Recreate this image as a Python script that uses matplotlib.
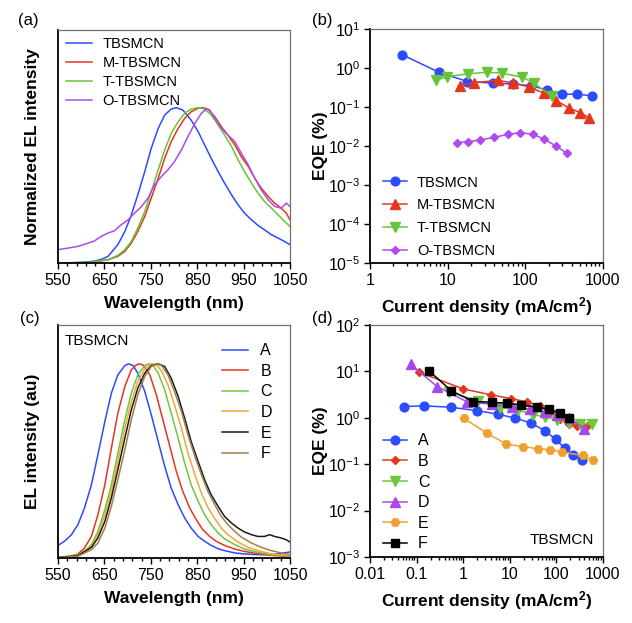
import matplotlib
matplotlib.use("Agg")
import matplotlib.pyplot as plt
from matplotlib.ticker import FixedLocator, LogLocator, NullFormatter, FuncFormatter, NullLocator, LogFormatterSciNotation

plt.rcParams['font.family'] = ['Liberation Sans', 'DejaVu Sans']
plt.rcParams['mathtext.fontset'] = 'custom'
plt.rcParams['mathtext.rm'] = 'Liberation Sans'
plt.rcParams['mathtext.bf'] = 'Liberation Sans:bold'
plt.rcParams['mathtext.it'] = 'Liberation Sans:italic'

# ---------------- (a) normalized EL spectra ----------------
a_labels = ["TBSMCN", "M-TBSMCN", "T-TBSMCN", "O-TBSMCN"]
a_colors = ["#2b4bff", "#e5361c", "#66c43a", "#b04af0"]

a_tb_wl = [550, 580, 610, 630, 645, 658, 679, 694, 707, 722, 737, 751, 766, 780, 794, 805, 819, 837, 852, 866, 880, 895, 909, 924, 938, 952, 967, 981, 995, 1010, 1024, 1038, 1050]
a_tb_I = [0.0, 0.002, 0.006, 0.013, 0.025, 0.043, 0.118, 0.203, 0.300, 0.439, 0.589, 0.739, 0.867, 0.953, 0.991, 1.0, 0.985, 0.92, 0.846, 0.76, 0.675, 0.589, 0.514, 0.439, 0.375, 0.321, 0.278, 0.242, 0.214, 0.182, 0.161, 0.139, 0.118]

a_m_wl = [550, 593, 622, 658, 679, 694, 708, 722, 737, 751, 766, 780, 794, 809, 823, 837, 852, 862, 873, 888, 902, 916, 931, 945, 960, 974, 988, 1003, 1017, 1031, 1042, 1050]
a_m_I = [0.0, 0.0, 0.004, 0.021, 0.043, 0.075, 0.128, 0.203, 0.300, 0.418, 0.546, 0.675, 0.782, 0.867, 0.931, 0.974, 0.996, 1.0, 0.991, 0.942, 0.878, 0.824, 0.760, 0.685, 0.621, 0.546, 0.482, 0.428, 0.385, 0.353, 0.321, 0.278]

a_t_wl = [550, 593, 622, 658, 679, 694, 708, 722, 737, 751, 766, 780, 794, 809, 823, 837, 852, 866, 880, 895, 909, 924, 938, 952, 967, 981, 995, 1010, 1024, 1038, 1050]
a_t_I = [0.0, 0.0, 0.006, 0.021, 0.049, 0.086, 0.139, 0.225, 0.332, 0.460, 0.600, 0.728, 0.835, 0.91, 0.964, 0.991, 1.0, 0.991, 0.953, 0.889, 0.824, 0.75, 0.664, 0.589, 0.514, 0.45, 0.396, 0.353, 0.311, 0.268, 0.236]

a_o_wl = [550, 572, 593, 615, 629, 643, 658, 672, 686, 701, 715, 730, 744, 758, 773, 787, 801, 816, 830, 845, 859, 870, 877, 888, 902, 916, 931, 945, 960, 974, 988, 1003, 1017, 1031, 1042, 1050]
a_o_I = [0.086, 0.096, 0.107, 0.128, 0.143, 0.171, 0.193, 0.208, 0.246, 0.278, 0.321, 0.364, 0.418, 0.503, 0.557, 0.600, 0.653, 0.728, 0.814, 0.899, 0.964, 0.991, 0.985, 0.932, 0.867, 0.824, 0.782, 0.707, 0.632, 0.546, 0.471, 0.407, 0.364, 0.353, 0.385, 0.364]

# ---------------- (b) EQE vs current density ----------------
b_tb_j = [2.6, 7.8, 18, 38, 70, 119, 189, 296, 462, 729]
b_tb_eqe = [2.19, 0.77, 0.45, 0.41, 0.39, 0.35, 0.275, 0.213, 0.213, 0.193]
b_m_j = [14.4, 22, 44, 70, 113, 175, 250, 368, 510, 667]
b_m_eqe = [0.355, 0.42, 0.48, 0.42, 0.32, 0.226, 0.146, 0.093, 0.072, 0.052]
b_t_j = [7.0, 9.9, 18.4, 31.8, 49.8, 91.8, 130, 220]
b_t_eqe = [0.48, 0.60, 0.71, 0.78, 0.74, 0.58, 0.41, 0.186]
b_o_j = [13.0, 18.1, 26.1, 39.6, 60.5, 85.8, 125, 175, 248, 344]
b_o_eqe = [0.0122, 0.0129, 0.0143, 0.0167, 0.020, 0.022, 0.020, 0.0149, 0.0100, 0.0065]

# ---------------- (c) EL spectra of TBSMCN devices ----------------
c_labels = ["A", "B", "C", "D", "E", "F"]
c_colors = ["#2b4bff", "#e5361c", "#6cc83c", "#f4a53a", "#1a1a1a", "#a0804c"]

c_A_wl = [550, 564, 579, 593, 607, 622, 636, 651, 665, 679, 694, 702, 712, 722, 737, 751, 766, 780, 794, 809, 823, 837, 852, 866, 880, 895, 909, 931, 952, 981, 1010, 1031, 1050]
c_A_I = [0.065, 0.086, 0.120, 0.172, 0.257, 0.377, 0.532, 0.703, 0.849, 0.943, 0.991, 1.0, 0.991, 0.952, 0.858, 0.738, 0.600, 0.472, 0.360, 0.274, 0.206, 0.154, 0.111, 0.086, 0.065, 0.048, 0.038, 0.026, 0.021, 0.017, 0.017, 0.024, 0.031]
c_B_wl = [550, 579, 593, 607, 622, 636, 651, 665, 679, 694, 708, 719, 726, 735, 748, 762, 776, 791, 805, 819, 834, 848, 862, 877, 891, 909, 931, 952, 981, 1010, 1050]
c_B_I = [0.003, 0.009, 0.021, 0.051, 0.111, 0.223, 0.377, 0.566, 0.746, 0.883, 0.969, 0.995, 1.0, 0.991, 0.943, 0.840, 0.712, 0.575, 0.446, 0.343, 0.257, 0.197, 0.146, 0.111, 0.086, 0.065, 0.046, 0.034, 0.022, 0.014, 0.007]
c_C_wl = [550, 593, 607, 622, 636, 651, 665, 679, 694, 708, 722, 737, 745, 755, 766, 780, 794, 809, 823, 837, 852, 866, 880, 895, 909, 931, 952, 981, 1010, 1050]
c_C_I = [0.003, 0.017, 0.034, 0.069, 0.137, 0.249, 0.377, 0.540, 0.712, 0.849, 0.943, 0.991, 1.0, 0.991, 0.952, 0.866, 0.746, 0.617, 0.489, 0.377, 0.292, 0.223, 0.172, 0.129, 0.099, 0.069, 0.046, 0.029, 0.017, 0.009]
c_D_wl = [550, 593, 622, 636, 651, 665, 679, 694, 708, 722, 737, 748, 753, 762, 773, 787, 801, 816, 830, 845, 859, 873, 888, 902, 916, 938, 960, 981, 1010, 1050]
c_D_I = [0.002, 0.014, 0.060, 0.120, 0.223, 0.343, 0.497, 0.669, 0.806, 0.909, 0.974, 0.997, 1.0, 0.995, 0.964, 0.892, 0.789, 0.669, 0.540, 0.429, 0.334, 0.261, 0.202, 0.154, 0.120, 0.082, 0.055, 0.038, 0.021, 0.012]
c_E_wl = [550, 593, 622, 636, 651, 665, 679, 694, 708, 722, 737, 751, 766, 780, 794, 809, 823, 837, 852, 866, 880, 895, 909, 924, 938, 952, 967, 981, 995, 1006, 1017, 1031, 1042, 1050]
c_E_I = [0.002, 0.012, 0.055, 0.103, 0.189, 0.309, 0.455, 0.617, 0.763, 0.875, 0.952, 0.991, 1.0, 0.986, 0.926, 0.832, 0.720, 0.600, 0.497, 0.403, 0.326, 0.266, 0.214, 0.180, 0.154, 0.134, 0.120, 0.111, 0.111, 0.120, 0.111, 0.103, 0.094, 0.082]
c_F_wl = [550, 593, 622, 636, 651, 665, 679, 694, 708, 722, 737, 751, 762, 773, 787, 801, 816, 830, 845, 859, 873, 888, 902, 916, 931, 945, 967, 988, 1010, 1031, 1050]
c_F_I = [0.002, 0.009, 0.043, 0.077, 0.154, 0.266, 0.403, 0.557, 0.712, 0.840, 0.935, 0.986, 1.0, 0.991, 0.943, 0.858, 0.755, 0.635, 0.523, 0.429, 0.343, 0.274, 0.214, 0.172, 0.137, 0.108, 0.077, 0.055, 0.038, 0.026, 0.017]

# ---------------- (d) EQE of TBSMCN devices ----------------
d_A_j = [0.054, 0.145, 0.545, 1.94, 5.5, 13.2, 28.7, 55.6, 95.8, 150, 226, 360]
d_A_eqe = [1.75, 1.81, 1.69, 1.43, 1.20, 0.98, 0.77, 0.53, 0.345, 0.222, 0.159, 0.124]
d_B_j = [0.113, 1.0, 3.95, 10.6, 23.1, 43.4, 76, 121, 182, 276, 453]
d_B_eqe = [9.58, 4.19, 3.12, 2.6, 2.2, 1.81, 1.32, 0.95, 0.74, 0.67, 0.67]
d_C_j = [0.5, 2.1, 6.2, 15.3, 31.2, 57.5, 102, 182, 314, 589]
d_C_eqe = [3.67, 2.31, 1.66, 1.48, 1.16, 1.06, 0.90, 0.79, 0.75, 0.73]
d_D_j = [0.074, 0.277, 1.18, 4.08, 11.0, 27.3, 57.4, 102, 182, 396]
d_D_eqe = [14.2, 4.7, 2.24, 1.96, 1.69, 1.53, 1.36, 1.16, 1.01, 0.58]
d_E_j = [1.02, 3.19, 8.45, 19.3, 39.9, 74.7, 133, 370, 607]
d_E_eqe = [0.98, 0.47, 0.27, 0.24, 0.215, 0.204, 0.182, 0.154, 0.124]
d_F_j = [0.186, 0.56, 1.65, 4.1, 8.6, 17.5, 38, 68, 117, 182]
d_F_eqe = [10.2, 3.8, 2.24, 2.17, 2.06, 1.9, 1.69, 1.53, 1.30, 1.01]

wl_major = [550, 650, 750, 850, 950, 1050]
wl_minor = list(range(550, 1051, 20))

W, H = 632, 623
fig = plt.figure(figsize=(W / 100, H / 100), dpi=100)


def box(l, t, r, b):
    return [l / W, 1 - b / H, (r - l) / W, (b - t) / H]


axa = fig.add_axes(box(58, 30, 290, 263))
axb = fig.add_axes(box(370, 29, 603, 263))
axc = fig.add_axes(box(58, 325, 290, 558))
axd = fig.add_axes(box(370, 325, 603, 557))

TICK_FS = 11.5
LAB_FS = 12.5
LEG_FS = 10.5


def style(ax):
    for s in ['bottom', 'left']:
        ax.spines[s].set_color('black')
        ax.spines[s].set_linewidth(1.3)
    for s in ['top', 'right']:
        ax.spines[s].set_color('#707070')
        ax.spines[s].set_linewidth(0.9)
    ax.tick_params(which='both', direction='out', top=False, right=False, labelsize=TICK_FS, width=1.0, pad=2.5)
    ax.tick_params(which='major', length=4.5)
    ax.tick_params(which='minor', length=2.5)


def wl_axis(ax, ytop):
    ax.set_xlim(550, 1050)
    ax.set_ylim(0, ytop)
    ax.xaxis.set_major_locator(FixedLocator(wl_major))
    ax.xaxis.set_minor_locator(FixedLocator(wl_minor))
    ax.yaxis.set_major_locator(NullLocator())
    style(ax)
    ax.set_xlabel("Wavelength (nm)", fontsize=LAB_FS, fontweight='bold', labelpad=6)


def log_axis(ax, xlim, ylim):
    ax.set_xscale('log')
    ax.set_yscale('log')
    ax.set_xlim(*xlim)
    ax.set_ylim(*ylim)
    ax.xaxis.set_major_locator(LogLocator(base=10, numticks=10))
    ax.xaxis.set_minor_locator(LogLocator(base=10, subs=range(2, 10), numticks=10))
    ax.xaxis.set_minor_formatter(NullFormatter())
    ax.xaxis.set_major_formatter(FuncFormatter(lambda v, p: "%g" % v))
    ax.yaxis.set_major_locator(LogLocator(base=10, numticks=10))
    ax.yaxis.set_minor_locator(NullLocator())
    ax.yaxis.set_major_formatter(LogFormatterSciNotation())
    style(ax)
    ax.set_xlabel(r"Current density (mA/cm$^\mathbf{2}$)", fontsize=LAB_FS, fontweight='bold', labelpad=5)
    ax.set_ylabel("EQE (%)", fontsize=LAB_FS, fontweight='bold', labelpad=0)


# (a)
for wl, I, lab, col in zip([a_tb_wl, a_m_wl, a_t_wl, a_o_wl], [a_tb_I, a_m_I, a_t_I, a_o_I], a_labels, a_colors):
    axa.plot(wl, I, color=col, lw=1.1, label=lab)
wl_axis(axa, 1.5)
axa.set_ylabel("Normalized EL intensity", fontsize=LAB_FS, fontweight='bold', labelpad=13)
axa.legend(loc='upper left', bbox_to_anchor=(-0.01, 1.015), frameon=False, fontsize=LEG_FS,
           handlelength=1.8, handletextpad=0.7, labelspacing=0.35, borderaxespad=0.3)

# (b)
b_sets = [(b_tb_j, b_tb_eqe, 'o', 6.3), (b_m_j, b_m_eqe, '^', 6.5), (b_t_j, b_t_eqe, 'v', 6.5), (b_o_j, b_o_eqe, 'D', 4.5)]
for (j, e, m, ms), lab, col in zip(b_sets, a_labels, a_colors):
    axb.plot(j, e, marker=m, ms=ms, color=col, mec=col, mfc=col, lw=1.1, label=lab)
log_axis(axb, (1, 1000), (1e-5, 10))
axb.legend(loc='lower left', bbox_to_anchor=(0.02, -0.015), frameon=False, fontsize=LEG_FS,
           handlelength=1.6, handletextpad=0.7, labelspacing=0.6, borderaxespad=0.2)

# (c)
c_wls = [c_A_wl, c_B_wl, c_C_wl, c_D_wl, c_E_wl, c_F_wl]
c_Is = [c_A_I, c_B_I, c_C_I, c_D_I, c_E_I, c_F_I]
for wl, I, lab, col in zip(c_wls, c_Is, c_labels, c_colors):
    axc.plot(wl, I, color=col, lw=1.1, label=lab)
wl_axis(axc, 1.2)
axc.set_ylabel("EL intensity (au)", fontsize=LAB_FS, fontweight='bold', labelpad=13)
axc.legend(loc='upper right', bbox_to_anchor=(0.97, 0.97), frameon=False, fontsize=LEG_FS + 1,
           handlelength=1.6, handletextpad=0.8, labelspacing=0.35, borderaxespad=0.3)
axc.text(0.03, 0.93, "TBSMCN", transform=axc.transAxes, fontsize=LEG_FS + 0.5, ha='left', va='center')

# (d)
d_sets = [(d_A_j, d_A_eqe, 'o', 6.3), (d_B_j, d_B_eqe, 'D', 4.5), (d_C_j, d_C_eqe, 'v', 6.5),
          (d_D_j, d_D_eqe, '^', 6.5), (d_E_j, d_E_eqe, 'H', 6), (d_F_j, d_F_eqe, 's', 5.5)]
d_colors = ["#2b4bff", "#e5361c", "#6cc83c", "#a848e8", "#f0a030", "#000000"]
for (j, e, m, ms), lab, col in zip(d_sets, c_labels, d_colors):
    axd.plot(j, e, marker=m, ms=ms, color=col, mec=col, mfc=col, lw=1.1, label=lab)
log_axis(axd, (0.01, 1000), (1e-3, 100))
axd.legend(loc='lower left', bbox_to_anchor=(0.02, -0.01), frameon=False, fontsize=LEG_FS + 1,
           handlelength=1.5, handletextpad=0.7, labelspacing=0.35, borderaxespad=0.1)
axd.text(0.96, 0.075, "TBSMCN", transform=axd.transAxes, fontsize=LEG_FS + 0.5, ha='right', va='center')

# panel labels
for lab, x, y in [("(a)", 18, 20), ("(b)", 312, 20), ("(c)", 20, 318), ("(d)", 312, 318)]:
    fig.text(x / W, 1 - y / H, lab, fontsize=12, ha='left', va='center')

fig.savefig("out.png", dpi=100)
